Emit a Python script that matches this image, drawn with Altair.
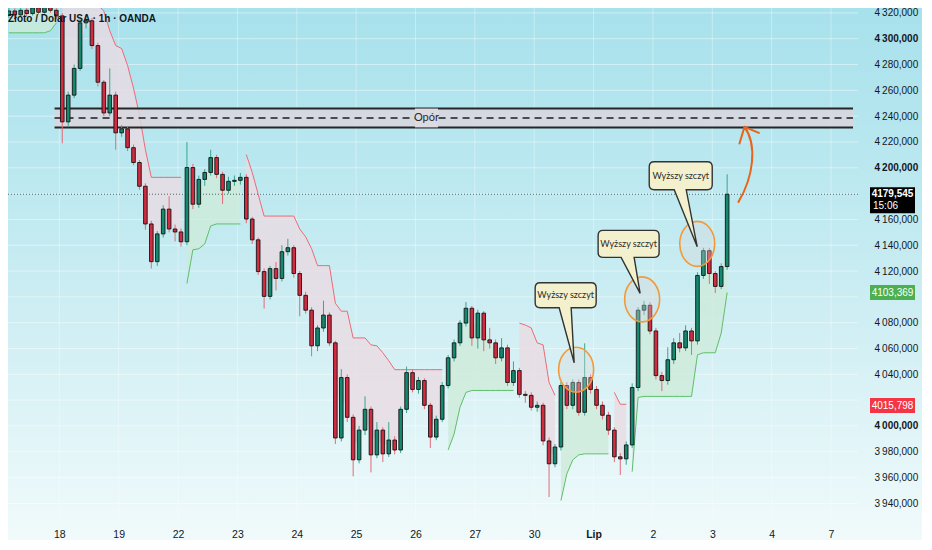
import json
import altair as alt
import pandas as pd

# ---------------- data ----------------
day_labels = ["18", "19", "22", "23", "24", "25", "26", "27", "30", "Lip", "2", "3", "4", "7"]
bold_day = "Lip"

first_open = 4318.0
closes = [
    4321.5, 4318.5, 4322.0, 4319.5, 4324.0, 4320.5, 4325.0, 4322.0, 4317.7,
    4235.6, 4256.3, 4277.0, 4312.3, 4313.9, 4294.7, 4266.3, 4242.5, 4256.3, 4227.1,
    4230.2, 4215.6, 4204.1, 4185.7, 4156.5, 4127.3, 4148.8, 4168.0, 4152.6, 4150.3,
    4142.7, 4200.2, 4171.8, 4191.0, 4196.4, 4207.9, 4194.9, 4182.6, 4189.5, 4190.3,
    4192.6, 4160.3, 4144.2, 4119.6, 4100.4, 4121.9, 4114.3, 4135.0, 4138.1, 4118.1,
    4101.2, 4089.7, 4062.1, 4075.9, 4085.9, 4064.4, 3990.7, 4037.5, 4006.7, 3973.8,
    3996.8, 4012.9, 3977.6, 3996.8, 3978.4, 3989.1, 3981.4, 4012.9, 4041.3, 4028.3,
    4035.2, 4016.0, 3991.4, 4005.2, 4031.3, 4052.8, 4064.4, 4079.7, 4091.2, 4068.2,
    4087.4, 4066.7, 4064.4, 4052.8, 4060.5, 4033.7, 4042.9, 4024.5, 4023.7, 4014.5,
    4016.0, 3988.4, 3970.7, 3983.7, 4031.3, 4016.0, 4033.7, 4010.6, 4037.5, 4028.3,
    4016.0, 4008.3, 3996.8, 3976.1, 3974.5, 3985.3, 4029.8, 4089.7, 4093.5, 4073.6,
    4039.0, 4035.2, 4051.3, 4064.4, 4060.5, 4073.6, 4065.9, 4116.6, 4135.8, 4118.1,
    4108.1, 4123.5, 4179.5,
]
highs = [
    4324, 4323.5, 4325, 4324, 4327, 4326, 4328, 4327, 4324,
    4320, 4259, 4280, 4316, 4318, 4316, 4297, 4268, 4277, 4259,
    4233, 4232, 4218, 4206, 4188, 4159, 4151, 4171, 4178, 4156,
    4153, 4220, 4203, 4194, 4199, 4214, 4210, 4197, 4193, 4194,
    4196, 4195, 4162, 4146, 4122, 4124, 4127, 4140, 4145, 4140,
    4120, 4104, 4092, 4078, 4097, 4088, 4066, 4044, 4040, 4009,
    4000, 4023, 4015, 4003, 3999, 4003, 3992, 4015, 4046, 4044,
    4038, 4037, 4018, 4008, 4034, 4055, 4067, 4082, 4096, 4093,
    4090, 4089, 4076, 4067, 4068, 4063, 4050, 4045, 4027, 4026,
    4019, 4018, 3991, 3986, 4034, 4034, 4036, 4036, 4064, 4040,
    4031, 4019, 4011, 3999, 3979, 3988, 4033, 4092, 4097, 4096,
    4076, 4042, 4061, 4068, 4072, 4078, 4076, 4119, 4138, 4138,
    4120, 4126, 4195,
]
lows = [
    4316, 4316, 4317, 4317.5, 4318, 4319, 4319.5, 4320, 4315,
    4219, 4232, 4254, 4275, 4308, 4292, 4263, 4240, 4240, 4214,
    4224, 4213, 4202, 4183, 4152, 4122, 4124, 4146, 4150, 4143,
    4139, 4140, 4168, 4169, 4186, 4194, 4192, 4172, 4180, 4186,
    4187, 4157, 4141, 4117, 4091, 4098, 4105, 4112, 4132, 4115,
    4085, 4087, 4054, 4058, 4073, 4062, 3986, 3988, 4003, 3961,
    3971, 3993, 3964, 3975, 3972, 3976, 3978, 3979, 4010, 4026,
    4025, 4013, 3983, 3989, 4003, 4029, 4050, 4062, 4077, 4062,
    4060, 4058, 4060, 4048, 4050, 4031, 4031, 4022, 4018, 4012,
    4011, 3985, 3945, 3968, 3981, 4013, 4013, 4008, 4008, 4025,
    4013, 4005, 3993, 3972, 3962, 3970, 3983, 4027, 4086, 4071,
    4036, 4027, 4032, 4048, 4057, 4058, 4055, 4063, 4114, 4110,
    4103, 4106, 4121,
]
# Supertrend indicator values per candle
st_values = [
    4304.6, 4304.6, 4304.6, 4304.6, 4304.6, 4304.6, 4304.6, 4306.2, 4312.3,
    4345, 4345, 4345, 4340, 4336, 4330, 4326, 4321.5, 4306.2, 4294.7, 4292.4,
    4279.3, 4261.7, 4241.0, 4214.1, 4192.6, 4192.6, 4192.6, 4192.6, 4192.6, 4192.6,
    4110.4, 4136.5, 4137.3, 4141.0, 4155.0, 4156.5, 4156.5, 4156.5, 4156.5, 4156.5,
    4210.2, 4196.4, 4179.5, 4162.6, 4162.6, 4162.6, 4162.6, 4162.6, 4162.6,
    4152.6, 4146.5, 4137.3, 4124.2, 4124.2, 4124.2, 4095.1, 4088.9, 4088.9,
    4068.2, 4068.2, 4068.2, 4062.8, 4062.1, 4056.7, 4050.5, 4043.6,
    4043.6, 4043.6, 4043.6, 4043.6, 4043.6, 4043.6, 4043.6, 4043.6,
    3981.4, 3993.7, 4014.5, 4026.0, 4027.5, 4027.5, 4027.5, 4027.5, 4027.5, 4027.5, 4027.5, 4027.5,
    4079.7, 4078.2, 4075.9, 4064.4, 4062.8, 4033.7, 4023.7,
    3942.2, 3963.0, 3973.8, 3977.6, 3978.4, 3978.4, 3978.4, 3978.4, 3978.4,
    4026.0, 4016.8, 4016.8,
    3964.6, 4022.1, 4022.9, 4022.9, 4022.9, 4022.9, 4022.9, 4022.9, 4022.9, 4022.9, 4022.9,
    4055.1, 4056.7, 4056.7, 4056.7, 4072.0, 4103.4,
]
st_runs = [("up", 9), ("down", 21), ("up", 10), ("down", 34), ("up", 12),
           ("down", 7), ("up", 9), ("down", 3), ("up", 17)]

candle_start_day = -0.85   # time of first candle, in trading days from "18"
candle_step_day = 0.1      # candle duration in trading days

y_ticks = [3940, 3960, 3980, 4000, 4040, 4060, 4080, 4120, 4140, 4160,
           4200, 4220, 4240, 4260, 4280, 4300, 4320]
grid_levels = list(range(3940, 4321, 20))

zone_lo, zone_hi, zone_mid = 4231.3, 4245.9, 4238.6
zone_start_day = -0.08
zone_label = "Opór"
zone_label_day = (5.99, 6.38)

last_price, last_price_text, last_time = 4179.545, "4179,545", "15:06"
st_price, st_price_text = 4103.369, "4103,369"
red_price, red_price_text = 4015.798, "4015,798"

callout_text = "Wyższy szczyt"
callout_day = [8.673, 9.784, 10.746]
callout_price = [4049.0, 4102.7, 4138.8]
ellipse_day = [8.706, 9.818, 10.746]
ellipse_price = [4043.6, 4098.1, 4141.1]
arrow_day, arrow_price = 11.542, 4231.7

title_text = "Złoto / Dolar USA · 1h · OANDA"

# ---------------- build table ----------------
n = len(closes)
opens = [first_open] + closes[:-1]
dirs = []
for d, k in st_runs:
    dirs += [d] * k
df = pd.DataFrame({
    "t": [candle_start_day + i * candle_step_day for i in range(n)],
    "open": opens, "close": closes, "high": highs, "low": lows,
    "st": st_values, "dir": dirs,
})
df["mid"] = (df["open"] + df["close"]) / 2
df["seg"] = (df["dir"] != df["dir"].shift()).cumsum()

# ---------------- styling ----------------
W, H = 850, 514
PAD_R, PAD_B = 64, 18
AX_FONT = "Liberation Sans, Arial, sans-serif"
NOTE_FONT = "Lato, Liberation Sans, sans-serif"
TXT = "#131722"
X_MAX = 13.37

xs = alt.Scale(domain=[-0.78, X_MAX], nice=False, zero=False)
ys = alt.Scale(domain=[3925.6, 4323.8], nice=False, zero=False)

x_axis = alt.Axis(
    values=list(range(len(day_labels))),
    labelExpr=f"{json.dumps(day_labels)}[datum.value]",
    grid=False, domain=False, ticks=False, title=None, zindex=1,
    labelFont=AX_FONT, labelFontSize=10.5, labelColor=TXT, labelPadding=7,
    labelFlush=False, labelOverlap=False,
    labelFontWeight={"condition": {"test": f"datum.value === {day_labels.index(bold_day)}", "value": "bold"},
                     "value": "normal"},
)
y_axis = alt.Axis(
    orient="right", values=y_ticks,
    labelExpr="replace(replace(format(datum.value, ',.3f'), ',', '\u2009'), '.', ',')",
    grid=False, domain=False, ticks=False, title=None, zindex=1,
    labelFont=AX_FONT, labelFontSize=10, labelColor=TXT, labelPadding=16,
    labelOverlap=False,
    labelFontWeight={"condition": {"test": "datum.value % 100 === 0", "value": "bold"}, "value": "normal"},
)


def X(f):
    return alt.X(f, type="quantitative", scale=xs, axis=x_axis)


def Y(f):
    return alt.Y(f, type="quantitative", scale=ys, axis=y_axis)


one = alt.Data(values=[{}])

bg = alt.Chart(one).mark_rect(
    fill=alt.LinearGradient(
        gradient="linear", x1=0, x2=0, y1=0, y2=1,
        stops=[alt.GradientStop(offset=0, color="#a7e1ec"),
               alt.GradientStop(offset=0.5, color="#c8ecf2"),
               alt.GradientStop(offset=1, color="#f1fafb")]),
).encode(x=alt.value(0), x2=alt.value(W + PAD_R), y=alt.value(0), y2=alt.value(H + PAD_B))

hgrid = alt.Chart(pd.DataFrame({"lvl": grid_levels})).mark_rule(
    color="#ffffff", opacity=0.45, strokeWidth=1).encode(y=Y("lvl:Q"))
vgrid = alt.Chart(pd.DataFrame({"d": list(range(len(day_labels)))})).mark_rule(
    color="#ffffff", opacity=0.35, strokeWidth=1).encode(x=X("d:Q"))

base = alt.Chart(df)
up = "datum.dir === 'up'"
st_fill = base.mark_area(clip=True, opacity=0.8).encode(
    x=X("t:Q"), y=Y("st:Q"), y2="mid:Q", detail="seg:N",
    color=alt.condition(up, alt.value("#cdebd9"), alt.value("#eadbe2")))
st_line = base.mark_line(clip=True, strokeWidth=1).encode(
    x=X("t:Q"), y=Y("st:Q"), detail="seg:N",
    color=alt.condition(up, alt.value("#5fbf6a"), alt.value("#ee6a78")))

zone_df = pd.DataFrame({"x0": [zone_start_day], "x1": [X_MAX], "lo": [zone_lo], "hi": [zone_hi],
                        "mid": [zone_mid], "lx0": [zone_label_day[0]], "lx1": [zone_label_day[1]],
                        "lxc": [(zone_label_day[0] + zone_label_day[1]) / 2], "txt": [zone_label]})
zb = alt.Chart(zone_df)
zone_rect = zb.mark_rect(fill="#d9d6de", opacity=0.85, clip=True).encode(
    x=X("x0:Q"), x2="x1:Q", y=Y("lo:Q"), y2="hi:Q")
zone_top = zb.mark_rule(color="#262626", strokeWidth=2, clip=True).encode(x=X("x0:Q"), x2="x1:Q", y=Y("hi:Q"))
zone_bot = zb.mark_rule(color="#262626", strokeWidth=2, clip=True).encode(x=X("x0:Q"), x2="x1:Q", y=Y("lo:Q"))
zone_dash = zb.mark_rule(color="#1e1e1e", strokeWidth=1.5, strokeDash=[7, 5], clip=True).encode(
    x=X("x0:Q"), x2="x1:Q", y=Y("mid:Q"))
zone_lbl_box = zb.mark_rect(fill="#dddbe1").encode(x=X("lx0:Q"), x2="lx1:Q", y=Y("lo:Q"), y2="hi:Q")
zone_lbl = zb.mark_text(font=NOTE_FONT, fontSize=11, color="#2a2a2a").encode(
    x=X("lxc:Q"), y=Y("mid:Q"), text="txt:N")

price_rule = alt.Chart(pd.DataFrame({"p": [last_price]})).mark_rule(
    color="#3c3c3c", strokeDash=[1, 2], strokeWidth=1, opacity=0.8).encode(y=Y("p:Q"))

bull = "datum.close >= datum.open"
wicks = base.mark_rule(clip=True, strokeWidth=1).encode(
    x=X("t:Q"), y=Y("low:Q"), y2="high:Q",
    color=alt.condition(bull, alt.value("#3aa58c"), alt.value("#e26b78")))
bodies = base.mark_bar(size=3.6, clip=True, stroke="#141414", strokeWidth=0.9).encode(
    x=X("t:Q"), y=Y("open:Q"), y2="close:Q",
    fill=alt.condition(bull, alt.value("#138a70"), alt.value("#d32b40")))


def ellipse_path(rx, ry):
    k = 0.5523
    kx, ky = k * rx, k * ry
    return (f"M {rx} 0 C {rx} {ky:.2f} {kx:.2f} {ry} 0 {ry} C {-kx:.2f} {ry} {-rx} {ky:.2f} {-rx} 0 "
            f"C {-rx} {-ky:.2f} {-kx:.2f} {-ry} 0 {-ry} C {kx:.2f} {-ry} {rx} {-ky:.2f} {rx} 0 Z")


def callout_path(L, R, T, B, b1, b2, r=5):
    return (f"M {L + r} {T} L {R - r} {T} Q {R} {T} {R} {T + r} L {R} {B - r} Q {R} {B} {R - r} {B} "
            f"L {b2} {B} L 0 0 L {b1} {B} L {L + r} {B} Q {L} {B} {L} {B - r} L {L} {T + r} "
            f"Q {L} {T} {L + r} {T} Z")


ell = alt.Chart(pd.DataFrame({"x": ellipse_day, "y": ellipse_price})).mark_point(
    shape=ellipse_path(17.5, 22.5), size=4, filled=True, fill="#d8d8d8", fillOpacity=0.35,
    stroke="#f29a3a", strokeWidth=1.6, opacity=1).encode(x=X("x:Q"), y=Y("y:Q"))

# box geometry (pixels, relative to the pointer tip)
callout_geom = [(-39, 22, -80, -55, -15, -3), (-42, 19, -63, -36, -19, -6), (-48, 15, -85, -57, -23, -11)]
callouts = []
for cx, cy, g in zip(callout_day, callout_price, callout_geom):
    L, R, T, B, b1, b2 = g
    cd = alt.Chart(pd.DataFrame({"x": [cx], "y": [cy], "t": [callout_text]}))
    callouts.append(cd.mark_point(shape=callout_path(L, R, T, B, b1, b2), size=4, filled=True,
                                  fill="#f3f1cd", stroke="#333333", strokeWidth=1.4, opacity=1)
                    .encode(x=X("x:Q"), y=Y("y:Q")))
    callouts.append(cd.mark_text(font=NOTE_FONT, fontSize=9, color="#2b2b2b",
                                 dx=(L + R) / 2, dy=(T + B) / 2)
                    .encode(x=X("x:Q"), y=Y("y:Q"), text="t:N"))

arrow = alt.Chart(pd.DataFrame({"x": [arrow_day], "y": [arrow_price]})).mark_point(
    shape="M -6 75 C 9 50 13 18 0 0 M -5 16.6 L 0 0 L 14.4 6", size=4, filled=False,
    stroke="#e8641b", strokeWidth=2, opacity=1, strokeCap="round", strokeJoin="round").encode(
    x=X("x:Q"), y=Y("y:Q"))

# price labels on the axis
BX = W + 12
lbl_df = pd.DataFrame({"p": [st_price, red_price], "txt": [st_price_text, red_price_text],
                       "c": ["#4caf50", "#f23645"]})
lbl_box = alt.Chart(lbl_df).mark_point(shape="M 0 -7.5 H 45 V 7.5 H 0 Z", size=4, filled=True,
                                       opacity=1).encode(
    x=alt.value(BX), y=Y("p:Q"), fill=alt.Fill("c:N", scale=None))
lbl_txt = alt.Chart(lbl_df).mark_text(font=AX_FONT, fontSize=10, color="white").encode(
    x=alt.value(BX + 22.5), y=Y("p:Q"), text="txt:N")
cur_df = pd.DataFrame({"p": [last_price], "txt": [last_price_text], "tm": [last_time]})
cur_box = alt.Chart(cur_df).mark_point(shape="M 0 -7 H 45 V 19 H 0 Z", size=4, filled=True,
                                       fill="#000000", opacity=1).encode(x=alt.value(BX), y=Y("p:Q"))
cur_txt = alt.Chart(cur_df).mark_text(font=AX_FONT, fontSize=10, fontWeight="bold", color="white").encode(
    x=alt.value(BX + 22.5), y=Y("p:Q"), text="txt:N")
cur_tm = alt.Chart(cur_df).mark_text(font=AX_FONT, fontSize=10, color="white", dy=12, align="left").encode(
    x=alt.value(BX + 3), y=Y("p:Q"), text="tm:N")

title = alt.Chart(one).mark_text(font=AX_FONT, fontSize=10, fontWeight="bold", color=TXT,
                                 align="left", baseline="middle").encode(
    x=alt.value(0), y=alt.value(11), text=alt.value(title_text))

chart = alt.layer(
    bg, hgrid, vgrid, st_fill, st_line, zone_rect, zone_top, zone_bot, zone_dash,
    zone_lbl_box, zone_lbl, price_rule, wicks, bodies, ell, *callouts, arrow,
    lbl_box, lbl_txt, cur_box, cur_txt, cur_tm, title,
).properties(
    width=W, height=H,
    autosize=alt.AutoSizeParams(type="none"),
    padding={"left": 0, "top": 0, "right": PAD_R, "bottom": PAD_B},
).configure_view(stroke=None)

chart.save("out.html", embed_options={"renderer": "svg", "actions": False})
